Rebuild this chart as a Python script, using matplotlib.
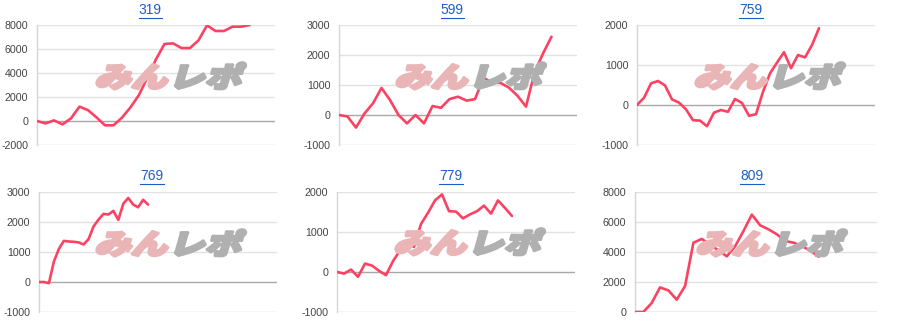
import numpy as np
import matplotlib
matplotlib.use('Agg')
import matplotlib.pyplot as plt
from matplotlib import patheffects
from matplotlib.transforms import Affine2D
from matplotlib.lines import Line2D

# machine numbers and cumulative balance
titles = ['319', '599', '759', '769', '779', '809']
s319 = [0, -200, 50, -280, 220, 1200, 900, 300, -360, -360, 280, 1140, 2170, 3640, 5140,
        6420, 6470, 6080, 6080, 6720, 7970, 7500, 7500, 7860, 7860, 7990]
s599 = [0, -50, -420, 50, 390, 900, 500, 0, -280, 0, -280, 300, 240, 530, 610, 480, 530,
        1240, 1080, 1070, 910, 640, 280, 1410, 2050, 2610]
s759 = [0, 180, 540, 600, 490, 140, 60, -110, -380, -390, -530, -190, -125, -170, 150, 50,
        -270, -230, 330, 790, 1060, 1320, 920, 1250, 1190, 1500, 1920]
s769 = [0, 0, -40, 680, 1100, 1370, 1350, 1340, 1320, 1250, 1430, 1850, 2080, 2270, 2250,
        2370, 2070, 2610, 2800, 2580, 2490, 2740, 2580]
s779 = [0, -40, 60, -120, 210, 160, 30, -80, 270, 540, 720, 630, 1200, 1480, 1790, 1940,
        1520, 1510, 1340, 1440, 1520, 1660, 1460, 1790, 1600, 1400]
s809 = [0, 0, 600, 1640, 1440, 820, 1730, 4620, 4870, 4490, 4110, 3710, 4380, 5400, 6490,
        5780, 5510, 5180, 4730, 4620, 4400, 4090, 3690]
series = [s319, s599, s759, s769, s779, s809]
ylims = [(-2000, 8000), (-1000, 3000), (-1000, 2000), (-1000, 3000), (-1000, 2000), (0, 8000)]
ysteps = [2000, 1000, 1000, 1000, 1000, 2000]
xmax = [28, 28, 34, 48, 34, 29]

W, H = 900, 332
fig = plt.figure(figsize=(9, 3.32), dpi=100)

# axes boxes in pixels: left, top, right, bottom
boxes = [(37, 25, 275, 145), (339, 25, 577, 145), (637, 25, 875, 145),
         (39, 192, 277, 312), (337, 192, 575, 312), (635, 192, 877, 312)]
title_pos = [(150, 10), (452, 10), (751, 10), (152, 176), (451, 176), (752, 176)]
mark_pos = [(167, 76), (467, 76), (766, 76), (167, 243), (466, 242), (768, 243)]


class Slant(patheffects.AbstractPathEffect):
    # leaning, squashed, thickened glyphs for the logo watermark
    def __init__(self, shear=16, squash=0.8, stroke=2.2):
        super().__init__()
        self.shear = shear
        self.squash = squash
        self.stroke = stroke

    def draw_path(self, renderer, gc, tpath, affine, rgbFace=None):
        x0, y0 = affine.transform((0, 0))
        t = affine + Affine2D().translate(-x0, -y0).scale(1.05, self.squash) \
            .skew_deg(self.shear, 0).translate(x0, y0)
        gc0 = renderer.new_gc()
        gc0.copy_properties(gc)
        gc0.set_linewidth(self.stroke)
        gc0.set_foreground(rgbFace)
        gc0.set_joinstyle('round')
        renderer.draw_path(gc0, tpath, t, rgbFace)
        gc0.restore()


cjk = ['Noto Sans CJK JP', 'DejaVu Sans']
txts = []
for i in range(6):
    l, t, r, b = boxes[i]
    ax = fig.add_axes([l / W, 1 - b / H, (r - l) / W, (b - t) / H])
    ys = series[i]
    ax.plot(range(len(ys)), ys, color='#fc4262', lw=1.9, solid_joinstyle='round',
            solid_capstyle='round', zorder=3)
    lo, hi = ylims[i]
    ax.set_ylim(lo, hi)
    ax.set_xlim(0, xmax[i])
    ticks = np.arange(lo, hi + 1, ysteps[i])
    ax.set_yticks(ticks)
    ax.set_yticklabels([str(v) for v in ticks])
    ax.set_xticks([])
    for v in ticks:
        if v == 0:
            ax.axhline(v, color='#a8a8a8', lw=1, zorder=1)
        elif v == lo:
            ax.axhline(v, color='#cccccc', lw=1, zorder=1)
        else:
            ax.axhline(v, color='#e2e2e2', lw=1, zorder=1)
    for s in ['top', 'right', 'bottom']:
        ax.spines[s].set_visible(False)
    ax.spines['left'].set_color('#d6d6d6')
    ax.spines['left'].set_linewidth(1)
    ax.tick_params(axis='y', length=0, pad=6.3, labelsize=7.7, labelcolor='#444444')
    for lab in ax.get_yticklabels():
        lab.set_fontfamily('Liberation Sans')
    ax.patch.set_alpha(0)

    # watermark
    cx, cy = mark_pos[i]
    fig.text((cx - 38) / W, 1 - (cy + 11) / H, 'みん', family=cjk, weight='black',
             fontsize=25, color='#eab5b7', ha='center', va='baseline',
             path_effects=[Slant()], zorder=0)
    fig.text((cx + 36) / W, 1 - (cy + 11) / H, 'レポ', family=cjk, weight='black',
             fontsize=25, color='#b0b0b0', ha='center', va='baseline',
             path_effects=[Slant()], zorder=0)

    tx, ty = title_pos[i]
    tt = fig.text(tx / W, 1 - ty / H, titles[i], family='Liberation Sans', fontsize=10,
                  color='#1a5fc8', ha='center', va='center')
    txts.append(tt)

# underline the title links
fig.canvas.draw()
rend = fig.canvas.get_renderer()
for tt in txts:
    bb = tt.get_window_extent(rend)
    yy = bb.y0 - 0.5
    fig.add_artist(Line2D([bb.x0 / W, bb.x1 / W], [yy / H, yy / H], color='#1a5fc8',
                          lw=0.8, transform=fig.transFigure))

fig.savefig('out.png', dpi=100)
